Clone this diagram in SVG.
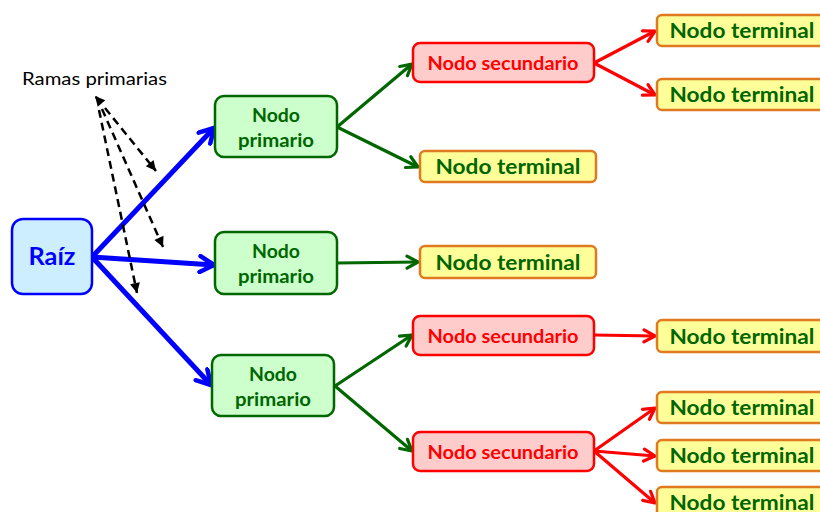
<svg xmlns="http://www.w3.org/2000/svg" width="820" height="512" viewBox="0 0 820 512">
  <defs>
    <style>
      .root { fill: #CCEEFF; stroke: #0000FF; stroke-width: 2.5; }
      .prim { fill: #CCFFCC; stroke: #006600; stroke-width: 2.5; }
      .sec  { fill: #FFCCCC; stroke: #FF0000; stroke-width: 2.5; }
      .term { fill: #FFFF99; stroke: #E07A20; stroke-width: 2.5; }
      text { font-family: Lato, "Open Sans", "Liberation Sans", sans-serif; font-weight: bold; text-anchor: middle; }
      .t-root { fill: #0000FF; font-size: 25px; }
      .t-prim { fill: #006600; font-size: 19px; }
      .t-sec  { fill: #FF0000; font-size: 19px; }
      .t-term { fill: #006600; font-size: 20px; }
      .t-label { fill: #000000; font-size: 17px; font-weight: normal; text-anchor: start; }
      .c-blue  { stroke: #0000FF; stroke-width: 5; fill: none; marker-end: url(#head-blue); }
      .c-green { stroke: #006600; stroke-width: 3.2; fill: none; marker-end: url(#head-green); }
      .c-red   { stroke: #FF0000; stroke-width: 3.2; fill: none; marker-end: url(#head-red); }
      .c-dash  { stroke: #000000; stroke-width: 2.5; fill: none; stroke-dasharray: 8 5; marker-end: url(#head-black); }
    </style>
    <marker id="head-blue" markerUnits="userSpaceOnUse" viewBox="0 0 20 20" refX="17" refY="10" markerWidth="20" markerHeight="20" orient="auto">
      <path d="M3,2 L17,10 L3,18" fill="none" stroke="#0000FF" stroke-width="4.5" stroke-linecap="round" stroke-linejoin="round"/>
    </marker>
    <marker id="head-green" markerUnits="userSpaceOnUse" viewBox="0 0 16 16" refX="14" refY="8" markerWidth="16" markerHeight="16" orient="auto">
      <path d="M3,2 L14,8 L3,14" fill="none" stroke="#006600" stroke-width="3.2" stroke-linecap="round" stroke-linejoin="round"/>
    </marker>
    <marker id="head-red" markerUnits="userSpaceOnUse" viewBox="0 0 16 16" refX="14" refY="8" markerWidth="16" markerHeight="16" orient="auto">
      <path d="M3,2 L14,8 L3,14" fill="none" stroke="#FF0000" stroke-width="3.2" stroke-linecap="round" stroke-linejoin="round"/>
    </marker>
    <marker id="head-black" markerUnits="userSpaceOnUse" viewBox="0 0 12 12" refX="11" refY="6" markerWidth="12" markerHeight="12" orient="auto">
      <path d="M1,1 L11,6 L1,11 Z" fill="#000000"/>
    </marker>
  </defs>

  <!-- connectors -->
  <g id="connectors">
    <!-- root to primaries -->
    <line class="c-blue" x1="92" y1="257" x2="214" y2="128"/>
    <line class="c-blue" x1="92" y1="257" x2="214" y2="265"/>
    <line class="c-blue" x1="92" y1="257" x2="211" y2="385"/>
    <!-- primaries to next level -->
    <line class="c-green" x1="337" y1="127" x2="412" y2="64"/>
    <line class="c-green" x1="337" y1="127" x2="418" y2="167"/>
    <line class="c-green" x1="337" y1="263" x2="418" y2="262"/>
    <line class="c-green" x1="335" y1="386" x2="412" y2="335"/>
    <line class="c-green" x1="335" y1="386" x2="412" y2="451"/>
    <!-- secondaries to terminals -->
    <line class="c-red" x1="594" y1="63" x2="655" y2="31"/>
    <line class="c-red" x1="594" y1="63" x2="655" y2="95"/>
    <line class="c-red" x1="594" y1="335" x2="655" y2="336"/>
    <line class="c-red" x1="594" y1="451" x2="655" y2="408"/>
    <line class="c-red" x1="594" y1="451" x2="655" y2="456"/>
    <line class="c-red" x1="594" y1="451" x2="655" y2="503"/>
    <!-- label pointers -->
    <line class="c-dash" x1="101" y1="103" x2="95" y2="96"/>
    <line class="c-dash" x1="105" y1="108" x2="156" y2="171"/>
    <line class="c-dash" x1="102" y1="109" x2="163" y2="247"/>
    <line class="c-dash" x1="99" y1="110" x2="137" y2="293"/>
  </g>

  <text class="t-label" x="22" y="85" textLength="145" lengthAdjust="spacingAndGlyphs">Ramas primarias</text>

  <g id="raiz">
    <rect class="root" x="12" y="219" width="80" height="75" rx="11"/>
    <text class="t-root" x="52" y="265" textLength="47" lengthAdjust="spacingAndGlyphs">Raíz</text>
  </g>

  <g id="primario-1">
    <rect class="prim" x="215" y="96" width="122" height="61" rx="9"/>
    <text class="t-prim" x="276" y="122" textLength="48" lengthAdjust="spacingAndGlyphs">Nodo</text>
    <text class="t-prim" x="276" y="147" textLength="76" lengthAdjust="spacingAndGlyphs">primario</text>
  </g>
  <g id="primario-2">
    <rect class="prim" x="215" y="232" width="122" height="62" rx="9"/>
    <text class="t-prim" x="276" y="258" textLength="48" lengthAdjust="spacingAndGlyphs">Nodo</text>
    <text class="t-prim" x="276" y="283" textLength="76" lengthAdjust="spacingAndGlyphs">primario</text>
  </g>
  <g id="primario-3">
    <rect class="prim" x="212" y="355" width="122" height="61" rx="9"/>
    <text class="t-prim" x="273" y="381" textLength="48" lengthAdjust="spacingAndGlyphs">Nodo</text>
    <text class="t-prim" x="273" y="406" textLength="76" lengthAdjust="spacingAndGlyphs">primario</text>
  </g>

  <g id="secundario-1">
    <rect class="sec" x="413" y="43" width="181" height="39" rx="7"/>
    <text class="t-sec" x="503" y="70" textLength="151" lengthAdjust="spacingAndGlyphs">Nodo secundario</text>
  </g>
  <g id="secundario-2">
    <rect class="sec" x="413" y="316" width="181" height="39" rx="7"/>
    <text class="t-sec" x="503" y="343" textLength="151" lengthAdjust="spacingAndGlyphs">Nodo secundario</text>
  </g>
  <g id="secundario-3">
    <rect class="sec" x="413" y="432" width="181" height="39" rx="7"/>
    <text class="t-sec" x="503" y="459" textLength="151" lengthAdjust="spacingAndGlyphs">Nodo secundario</text>
  </g>

  <g id="terminal-1">
    <rect class="term" x="420" y="151" width="176" height="31" rx="5"/>
    <text class="t-term" x="508" y="174" textLength="145" lengthAdjust="spacingAndGlyphs">Nodo terminal</text>
  </g>
  <g id="terminal-2">
    <rect class="term" x="420" y="246" width="176" height="32" rx="5"/>
    <text class="t-term" x="508" y="270" textLength="145" lengthAdjust="spacingAndGlyphs">Nodo terminal</text>
  </g>
  <g id="terminal-3">
    <rect class="term" x="657" y="15" width="176" height="31" rx="5"/>
    <text class="t-term" x="742" y="38" textLength="145" lengthAdjust="spacingAndGlyphs">Nodo terminal</text>
  </g>
  <g id="terminal-4">
    <rect class="term" x="657" y="79" width="176" height="31" rx="5"/>
    <text class="t-term" x="742" y="102" textLength="145" lengthAdjust="spacingAndGlyphs">Nodo terminal</text>
  </g>
  <g id="terminal-5">
    <rect class="term" x="657" y="320" width="176" height="32" rx="5"/>
    <text class="t-term" x="742" y="344" textLength="145" lengthAdjust="spacingAndGlyphs">Nodo terminal</text>
  </g>
  <g id="terminal-6">
    <rect class="term" x="657" y="392" width="176" height="31" rx="5"/>
    <text class="t-term" x="742" y="415" textLength="145" lengthAdjust="spacingAndGlyphs">Nodo terminal</text>
  </g>
  <g id="terminal-7">
    <rect class="term" x="657" y="440" width="176" height="31" rx="5"/>
    <text class="t-term" x="742" y="463" textLength="145" lengthAdjust="spacingAndGlyphs">Nodo terminal</text>
  </g>
  <g id="terminal-8">
    <rect class="term" x="657" y="487" width="176" height="31" rx="5"/>
    <text class="t-term" x="742" y="510" textLength="145" lengthAdjust="spacingAndGlyphs">Nodo terminal</text>
  </g>
</svg>
